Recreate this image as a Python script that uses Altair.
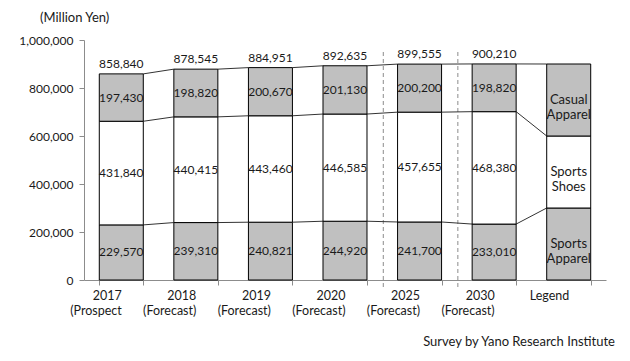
import altair as alt
import pandas as pd

categories = ["2017|(Prospect", "2018|(Forecast)", "2019|(Forecast)", "2020|(Forecast)",
              "2025|(Forecast)", "2030|(Forecast)", "Legend"]
sports_apparel = [229570, 239310, 240821, 244920, 241700, 233010]
sports_shoes = [431840, 440415, 443460, 446585, 457655, 468380]
casual_apparel = [197430, 198820, 200670, 201130, 200200, 198820]
totals = [858840, 878545, 884951, 892635, 899555, 900210]
legend_values = [300000, 300000, 300000]
legend_labels = ["Sports\nApparel", "Sports\nShoes", "Casual\nApparel"]
segment_fills = ["#c0c0c0", "#ffffff", "#c0c0c0"]
dashed_after = ["2020|(Forecast)", "2025|(Forecast)"]

FONT = "Lato"
TXT = "#1a1a1a"

# segment rows
seg_rows = []
bounds = []  # cumulative boundaries per category
for i, cat in enumerate(categories):
    is_legend = cat == "Legend"
    if is_legend:
        vals = legend_values
        labels = legend_labels
    else:
        vals = [sports_apparel[i], sports_shoes[i], casual_apparel[i]]
        labels = [f"{v:,}" for v in vals]
    y0 = 0
    b = []
    for k, v in enumerate(vals):
        seg_rows.append({"cat": cat, "y0": y0, "y1": y0 + v, "mid": y0 + v / 2,
                         "label": labels[k], "fill": segment_fills[k],
                         "legend": is_legend})
        y0 += v
        b.append(y0)
    bounds.append(b)
seg_df = pd.DataFrame(seg_rows)

tot_df = pd.DataFrame({"cat": categories[:-1], "total": totals})

conn_rows = []
for i in range(len(categories) - 1):
    for k in range(3):
        conn_rows.append({"from": categories[i], "to": categories[i + 1],
                          "ya": bounds[i][k], "yb": bounds[i + 1][k]})
conn_df = pd.DataFrame(conn_rows)

dash_df = pd.DataFrame({"cat": dashed_after})

W, H = 522, 240
pi = 0.41
step = W / len(categories)
xscale = alt.Scale(domain=categories, paddingInner=pi, paddingOuter=pi / 2)
yscale = alt.Scale(domain=[0, 1000000])

x_axis = alt.Axis(title=None, labelExpr="split(datum.label, '|')", labelFont=FONT,
                  labelFontSize=12.5, labelColor=TXT, labelAngle=0, tickBand="extent",
                  tickSize=5, tickColor="#8c8c8c", domainColor="#8c8c8c",
                  labelPadding=4, labelLineHeight=15, labelBaseline="top")
y_axis = alt.Axis(title=None, values=[0, 200000, 400000, 600000, 800000, 1000000],
                  format=",d", grid=False, labelFont=FONT, labelFontSize=12, labelColor=TXT,
                  tickSize=5, tickColor="#8c8c8c", domainColor="#8c8c8c", labelPadding=6)

bars = alt.Chart(seg_df).mark_bar(stroke="black", strokeWidth=1).encode(
    x=alt.X("cat:N", scale=xscale, axis=x_axis, sort=categories),
    y=alt.Y("y0:Q", scale=yscale, axis=y_axis),
    y2="y1:Q",
    fill=alt.Fill("fill:N", scale=None),
)

num_text = alt.Chart(seg_df).transform_filter("!datum.legend").mark_text(
    font=FONT, fontSize=12, color=TXT, baseline="middle").encode(
    x=alt.X("cat:N", sort=categories),
    y=alt.Y("mid:Q"),
    text="label:N",
)

leg_text = alt.Chart(seg_df).transform_filter("datum.legend").mark_text(
    font=FONT, fontSize=13, color=TXT, baseline="middle", lineBreak="\n", lineHeight=15).encode(
    x=alt.X("cat:N", sort=categories),
    y=alt.Y("mid:Q"),
    text="label:N",
)

tot_text = alt.Chart(tot_df).mark_text(font=FONT, fontSize=12, color=TXT,
                                       baseline="alphabetic", dy=-6).encode(
    x=alt.X("cat:N", sort=categories),
    y=alt.Y("total:Q"),
    text=alt.Text("total:Q", format=","),
)

conns = alt.Chart(conn_df).mark_rule(color="#333333", strokeWidth=1).encode(
    x=alt.X("from:N", bandPosition=1, sort=categories),
    x2=alt.X2("to:N", bandPosition=0),
    y=alt.Y("ya:Q"),
    y2="yb:Q",
)

dashes = alt.Chart(dash_df).mark_rule(color="#8c8c8c", strokeWidth=1, strokeDash=[4, 3],
                                      xOffset=step * pi / 2 + 1).encode(
    x=alt.X("cat:N", bandPosition=1, sort=categories),
    y=alt.value(12),
    y2=alt.value(249),
)

unit_df = pd.DataFrame({"t": ["(Million Yen)"]})
unit = alt.Chart(unit_df).mark_text(font=FONT, fontSize=13, color=TXT, align="left",
                                    baseline="middle").encode(
    x=alt.value(-44), y=alt.value(-22), text="t:N")

src_df = pd.DataFrame({"t": ["Survey by Yano Research Institute"]})
src = alt.Chart(src_df).mark_text(font=FONT, fontSize=13, color=TXT, align="right",
                                  baseline="middle").encode(
    x=alt.value(531), y=alt.value(302), text="t:N")

chart = alt.layer(dashes, conns, bars, num_text, leg_text, tot_text, unit, src).properties(
    width=W, height=H,
    autosize=alt.AutoSizeParams(type="none"),
    padding={"left": 76, "top": 32, "right": 16, "bottom": 70},
).configure_view(stroke=None)

chart.save("out.html", embed_options={"renderer": "svg", "actions": False})
